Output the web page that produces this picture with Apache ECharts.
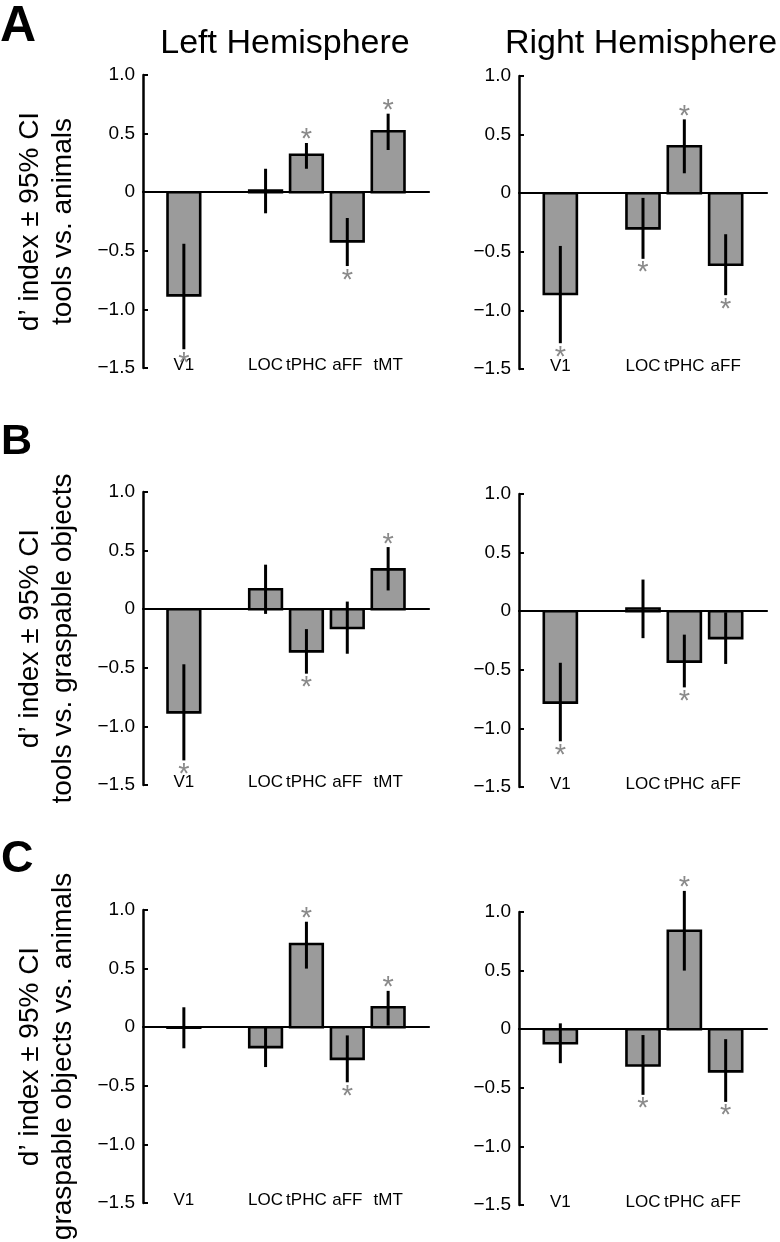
<!DOCTYPE html>
<html>
<head>
<meta charset="utf-8">
<script src="https://cdn.jsdelivr.net/npm/echarts@6/dist/echarts.min.js"></script>
<style>
  html, body { margin: 0; padding: 0; background: #fff; }
  #chart { width: 780px; height: 1242px; }
</style>
</head>
<body>
<div id="chart"></div>
<script>
// ---------------- DATA ----------------
const LEFT_CATS = ['V1', 'LOC', 'tPHC', 'aFF', 'tMT'];
const LEFT_POS = [1, 3, 4, 5, 6];
const RIGHT_CATS = ['V1', 'LOC', 'tPHC', 'aFF'];
const RIGHT_POS = [1, 3, 4, 5];
const Y_TICK_VALUES = [-1.5, -1.0, -0.5, 0, 0.5, 1.0];
const Y_TICK_LABELS = ['\u22121.5', '\u22121.0', '\u22120.5', '0', '0.5', '1.0'];

const HEMI_TITLES = ['Left Hemisphere', 'Right Hemisphere'];
const PANEL_LETTERS = ['A', 'B', 'C'];
const Y_NAMES = [
  'd\u2019 index \u00b1 95% CI\ntools vs. animals',
  'd\u2019 index \u00b1 95% CI\ntools vs. graspable objects',
  'd\u2019 index \u00b1 95% CI\ngraspable objects vs. animals'
];

// Panel A, left hemisphere
const A_L_MEAN = [-0.88, 0.015, 0.32, -0.42, 0.52];
const A_L_LO   = [-1.34, -0.18, 0.20, -0.63, 0.36];
const A_L_HI   = [-0.44, 0.20, 0.42, -0.22, 0.67];
const A_L_SIG  = [1, 0, 1, 1, 1];
// Panel A, right hemisphere
const A_R_MEAN = [-0.86, -0.30, 0.40, -0.61];
const A_R_LO   = [-1.28, -0.56, 0.17, -0.87];
const A_R_HI   = [-0.45, -0.04, 0.63, -0.35];
const A_R_SIG  = [1, 1, 1, 1];
// Panel B, left hemisphere
const B_L_MEAN = [-0.88, 0.17, -0.36, -0.16, 0.34];
const B_L_LO   = [-1.29, -0.04, -0.55, -0.38, 0.16];
const B_L_HI   = [-0.47, 0.38, -0.17, 0.065, 0.53];
const B_L_SIG  = [1, 0, 1, 0, 1];
// Panel B, right hemisphere
const B_R_MEAN = [-0.78, 0.023, -0.43, -0.23];
const B_R_LO   = [-1.11, -0.23, -0.65, -0.45];
const B_R_HI   = [-0.44, 0.27, -0.20, -0.01];
const B_R_SIG  = [1, 0, 1, 0];
// Panel C, left hemisphere
const C_L_MEAN = [-0.005, -0.17, 0.71, -0.27, 0.17];
const C_L_LO   = [-0.18, -0.34, 0.50, -0.47, 0.014];
const C_L_HI   = [0.17, 0.01, 0.90, -0.07, 0.31];
const C_L_SIG  = [0, 0, 1, 1, 1];
// Panel C, right hemisphere
const C_R_MEAN = [-0.12, -0.31, 0.84, -0.36];
const C_R_LO   = [-0.29, -0.56, 0.50, -0.62];
const C_R_HI   = [0.05, -0.05, 1.18, -0.085];
const C_R_SIG  = [0, 1, 1, 1];

// ---------------- LAYOUT ----------------
const FONT = '"Liberation Sans", Arial, Helvetica, sans-serif';
const GRID_H = 293;
const LEFT_GRID = { left: 143, width: 286, xmax: 7 };
const RIGHT_GRID = { left: 519, width: 248, xmax: 6 };
const ROW_TOPS = [[75, 76], [492, 494], [910, 912]];

const panels = [
  { row: 0, side: 0, mean: A_L_MEAN, lo: A_L_LO, hi: A_L_HI, sig: A_L_SIG },
  { row: 0, side: 1, mean: A_R_MEAN, lo: A_R_LO, hi: A_R_HI, sig: A_R_SIG },
  { row: 1, side: 0, mean: B_L_MEAN, lo: B_L_LO, hi: B_L_HI, sig: B_L_SIG },
  { row: 1, side: 1, mean: B_R_MEAN, lo: B_R_LO, hi: B_R_HI, sig: B_R_SIG },
  { row: 2, side: 0, mean: C_L_MEAN, lo: C_L_LO, hi: C_L_HI, sig: C_L_SIG },
  { row: 2, side: 1, mean: C_R_MEAN, lo: C_R_LO, hi: C_R_HI, sig: C_R_SIG }
];

function yLabel(v) {
  const i = Y_TICK_VALUES.findIndex(t => Math.abs(t - v) < 1e-9);
  return i >= 0 ? Y_TICK_LABELS[i] : '';
}

function renderItem(params, api) {
  const x = api.value(0), m = api.value(1), lo = api.value(2), hi = api.value(3), sig = api.value(4);
  const halfW = 0.4;
  const p0 = api.coord([x - halfW, 0]);
  const p1 = api.coord([x + halfW, m]);
  const children = [];
  children.push({
    type: 'rect',
    shape: { x: p0[0], y: Math.min(p0[1], p1[1]), width: p1[0] - p0[0], height: Math.abs(p1[1] - p0[1]) },
    style: { fill: '#9b9b9b', stroke: '#000', lineWidth: 2.6 }
  });
  const e0 = api.coord([x, lo]);
  const e1 = api.coord([x, hi]);
  children.push({
    type: 'line',
    shape: { x1: e0[0], y1: e0[1], x2: e1[0], y2: e1[1] },
    style: { stroke: '#000', lineWidth: 3 }
  });
  if (sig) {
    const cy = m > 0 ? e1[1] - 9 : e0[1] + 8;
    children.push({
      type: 'text',
      style: {
        text: '*', x: e0[0], y: cy + 6.5,
        textAlign: 'center', textVerticalAlign: 'middle',
        fill: '#8a8a8a', fontSize: 29, fontFamily: FONT
      }
    });
  }
  return { type: 'group', children };
}

const grids = [], xAxes = [], yAxes = [], series = [];
panels.forEach((p, i) => {
  const g = p.side === 0 ? LEFT_GRID : RIGHT_GRID;
  const cats = p.side === 0 ? LEFT_CATS : RIGHT_CATS;
  const pos = p.side === 0 ? LEFT_POS : RIGHT_POS;
  grids.push({ left: g.left, width: g.width, top: ROW_TOPS[p.row][p.side], height: GRID_H });
  // zero line axis
  xAxes.push({
    type: 'value', gridIndex: i, min: 0, max: g.xmax,
    axisLine: { show: true, onZero: true, lineStyle: { color: '#000', width: 2.2 } },
    axisTick: { show: false }, axisLabel: { show: false }, splitLine: { show: false }
  });
  // category labels axis at the bottom
  xAxes.push({
    type: 'value', gridIndex: i, min: 0, max: g.xmax, interval: 1, position: 'bottom',
    axisLine: { show: false, onZero: false }, axisTick: { show: false }, splitLine: { show: false },
    axisLabel: {
      show: true, margin: -3, verticalAlign: 'middle',
      fontSize: 17, fontFamily: FONT, color: '#000',
      formatter: v => { const k = pos.indexOf(Math.round(v)); return k >= 0 ? cats[k] : ''; }
    }
  });
  yAxes.push({
    type: 'value', gridIndex: i, min: -1.5, max: 1.0, interval: 0.5,
    axisLine: { show: true, lineStyle: { color: '#000', width: 2.5 } },
    axisTick: { show: true, inside: true, length: 5, lineStyle: { color: '#000', width: 2 } },
    axisLabel: { show: true, margin: 8, fontSize: 19, fontFamily: FONT, color: '#000', formatter: yLabel },
    splitLine: { show: false }
  });
  series.push({
    type: 'custom', xAxisIndex: 2 * i, yAxisIndex: i, clip: false,
    renderItem: renderItem,
    data: p.mean.map((m, k) => [pos[k], m, p.lo[k], p.hi[k], p.sig[k]])
  });
});

const graphics = [];
// hemisphere titles
graphics.push({ type: 'text', x: 285, y: 44, style: { text: HEMI_TITLES[0], fontSize: 34, fontFamily: FONT, fill: '#000', textAlign: 'center', textVerticalAlign: 'middle' } });
graphics.push({ type: 'text', x: 641, y: 44, style: { text: HEMI_TITLES[1], fontSize: 34, fontFamily: FONT, fill: '#000', textAlign: 'center', textVerticalAlign: 'middle' } });
// panel letters
const LETTER_POS = [[0, 27, 50], [1, 442, 43], [1, 860, 45]];
PANEL_LETTERS.forEach((L, r) => {
  graphics.push({ type: 'text', x: LETTER_POS[r][0], y: LETTER_POS[r][1], style: { text: L, fontSize: LETTER_POS[r][2], fontWeight: 'bold', fontFamily: FONT, fill: '#000', textAlign: 'left', textVerticalAlign: 'middle' } });
});
// y-axis names (rotated)
Y_NAMES.forEach((t, r) => {
  const cy = ROW_TOPS[r][0] + GRID_H / 2;
  graphics.push({ type: 'text', x: 46.5, y: cy, rotation: Math.PI / 2, style: { text: t, fontSize: 28, lineHeight: 33, fontFamily: FONT, fill: '#000', textAlign: 'center', textVerticalAlign: 'middle' } });
});

const chart = echarts.init(document.getElementById('chart'), null, { renderer: 'canvas' });
chart.setOption({
  animation: false,
  backgroundColor: '#fff',
  grid: grids,
  xAxis: xAxes,
  yAxis: yAxes,
  series: series,
  graphic: graphics
});
</script>
</body>
</html>
